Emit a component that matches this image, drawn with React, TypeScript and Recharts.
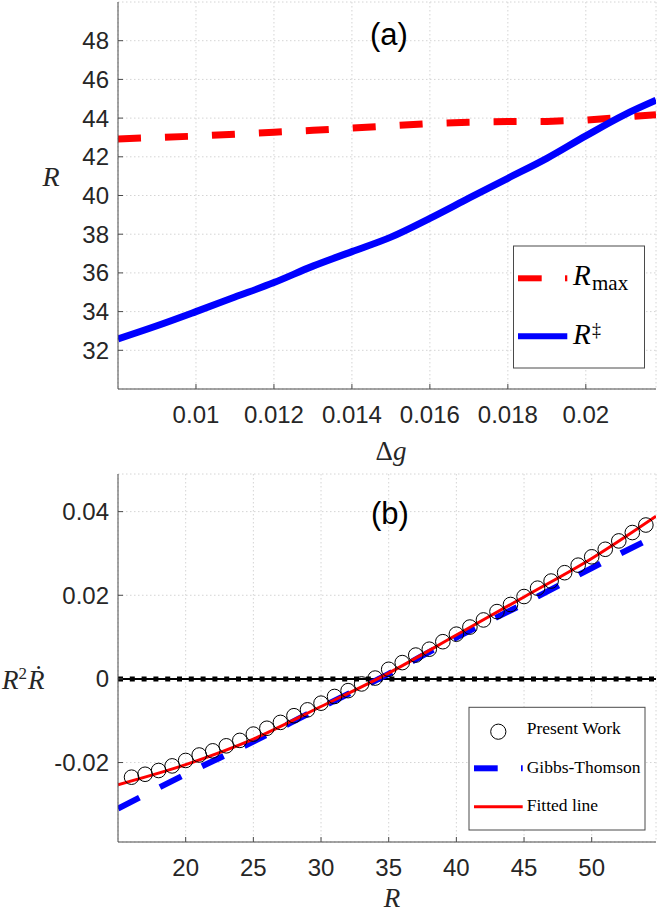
import React from 'react';
import { ComposedChart, Line, XAxis, YAxis, CartesianGrid } from 'recharts';

// ---------- Panel (a) data ----------
const dgValues = [0.008, 0.009, 0.01, 0.011, 0.012, 0.013, 0.014, 0.015, 0.016, 0.017, 0.018, 0.019, 0.02, 0.021, 0.0218];
const rMaxValues = [42.92, 43.0, 43.07, 43.17, 43.27, 43.37, 43.48, 43.6, 43.72, 43.79, 43.82, 43.83, 43.9, 44.05, 44.18];
const rDaggerValues = [32.59, 33.27, 34.0, 34.75, 35.5, 36.35, 37.1, 37.85, 38.82, 39.86, 40.89, 41.92, 43.08, 44.18, 44.92];
const dgTicks = [0.01, 0.012, 0.014, 0.016, 0.018, 0.02];
const rTicksA = [32, 34, 36, 38, 40, 42, 44, 46, 48];
const dgDomain: [number, number] = [0.008, 0.0218];
const rDomainA: [number, number] = [30, 50];

// ---------- Panel (b) data ----------
const rPresent = [16, 17, 18, 19, 20, 21, 22, 23, 24, 25, 26, 27, 28, 29, 30, 31, 32, 33, 34, 35, 36, 37, 38, 39, 40, 41, 42, 43, 44, 45, 46, 47, 48, 49, 50, 51, 52, 53, 54];
const presentValues = [-0.0235, -0.0228, -0.0219, -0.0208, -0.0195, -0.0182, -0.0172, -0.016, -0.0147, -0.0132, -0.0118, -0.0104, -0.0088, -0.0074, -0.0058, -0.0042, -0.0028, -0.0012, 0.0002, 0.0023, 0.0039, 0.0057, 0.0071, 0.0089, 0.0107, 0.0124, 0.0141, 0.0161, 0.0178, 0.0197, 0.0217, 0.0234, 0.0254, 0.0272, 0.0292, 0.031, 0.033, 0.035, 0.0368];
const rFit = [15, 20, 25, 30, 35, 40, 45, 50, 54.75];
const fitValues = [-0.0253, -0.0205, -0.0144, -0.0066, 0.0014, 0.0105, 0.0196, 0.0288, 0.0389];
const rGibbs = [15, 20, 25, 30, 35, 40, 45, 50, 53.8];
const gibbsValues = [-0.031, -0.0228, -0.015, -0.0068, 0.0012, 0.0099, 0.018, 0.0265, 0.0327];
const rZero = [15, 54.75];
const zeroValues = [0, 0];
const rTicksB = [20, 25, 30, 35, 40, 45, 50];
const yTicksB = [-0.02, 0, 0.02, 0.04];
const rDomainB: [number, number] = [15, 54.75];
const yDomainB: [number, number] = [-0.039, 0.049];

const zip = (xs: number[], ys: number[]) => xs.map((x, i) => ({ x, y: ys[i] }));

const rMaxData = zip(dgValues, rMaxValues);
const rDaggerData = zip(dgValues, rDaggerValues);
const presentData = zip(rPresent, presentValues);
const fitData = zip(rFit, fitValues);
const gibbsData = zip(rGibbs, gibbsValues);
const zeroData = zip(rZero, zeroValues);

const AXIS = '#4a4a4a';
const TXT = '#262626';
const SANS = '"Liberation Sans", Arial, Helvetica, sans-serif';
const SERIF = '"Liberation Serif", "DejaVu Serif", "Times New Roman", serif';
const tickStyle = { fontSize: 24, fill: TXT, fontFamily: SANS };
const EmptyTick = () => null;

const W = 664;

function Frame({ xDomain, yDomain, xTicks, yTicks }: any) {
  return [
    <CartesianGrid key="g" stroke="#d4d4d4" strokeDasharray="1.5 2.5" />,
    <XAxis key="xb" xAxisId={0} type="number" dataKey="x" domain={xDomain} ticks={xTicks} interval={0}
      allowDataOverflow height={71} tickSize={-5} tickMargin={22} tick={tickStyle}
      axisLine={{ stroke: AXIS }} tickLine={{ stroke: AXIS }} />,
    <XAxis key="xt" xAxisId="top" orientation="top" type="number" dataKey="x" domain={xDomain} ticks={xTicks}
      interval={0} allowDataOverflow height={0} tickSize={-5} tick={<EmptyTick />}
      axisLine={{ stroke: AXIS }} tickLine={{ stroke: AXIS }} />,
    <YAxis key="yl" yAxisId={0} type="number" dataKey="y" domain={yDomain} ticks={yTicks} interval={0}
      allowDataOverflow width={118} tickSize={-5} tickMargin={14} tick={tickStyle}
      axisLine={{ stroke: AXIS }} tickLine={{ stroke: AXIS }} />,
    <YAxis key="yr" yAxisId="right" orientation="right" type="number" dataKey="y" domain={yDomain} ticks={yTicks}
      interval={0} allowDataOverflow width={0} tickSize={-5} tick={<EmptyTick />}
      axisLine={{ stroke: AXIS }} tickLine={{ stroke: AXIS }} />,
  ];
}

function PanelA() {
  return (
    <ComposedChart width={W} height={460} margin={{ top: 2, right: 8, bottom: 0, left: 0 }}>
      {Frame({ xDomain: dgDomain, yDomain: rDomainA, xTicks: dgTicks, yTicks: rTicksA })}
      <Line data={rMaxData} dataKey="y" type="linear" stroke="#ff0000" strokeWidth={7}
        strokeDasharray="23 24" dot={false} isAnimationActive={false} />
      <Line data={rDaggerData} dataKey="y" type="monotone" stroke="#0000ff" strokeWidth={7}
        dot={false} isAnimationActive={false} />
    </ComposedChart>
  );
}

function PanelB() {
  return (
    <ComposedChart width={W} height={453} margin={{ top: 14, right: 8, bottom: 0, left: 0 }}>
      {Frame({ xDomain: rDomainB, yDomain: yDomainB, xTicks: rTicksB, yTicks: yTicksB })}
      <Line data={zeroData} dataKey="y" type="linear" stroke="#000" strokeWidth={2}
        dot={false} isAnimationActive={false} />
      <Line data={zeroData} dataKey="y" type="linear" stroke="#000" strokeWidth={5}
        strokeDasharray="5 6.8" dot={false} isAnimationActive={false} />
      <Line data={gibbsData} dataKey="y" type="monotone" stroke="#0000ff" strokeWidth={6}
        strokeDasharray="24 23" dot={false} isAnimationActive={false} />
      <Line data={presentData} dataKey="y" type="linear" stroke="none" strokeWidth={0}
        dot={{ r: 7.3, stroke: '#000', strokeWidth: 1, fill: 'none' }} activeDot={false} isAnimationActive={false} />
      <Line data={fitData} dataKey="y" type="monotone" stroke="#ff0000" strokeWidth={3}
        dot={false} isAnimationActive={false} />
    </ComposedChart>
  );
}

function Overlay() {
  return (
    <svg width={W} height={913} style={{ position: 'absolute', left: 0, top: 0, pointerEvents: 'none' }}>
      {/* panel titles */}
      <text x={389} y={44.5} textAnchor="middle" fontFamily={SANS} fontSize={31} fill="#000">(a)</text>
      <text x={390} y={523.5} textAnchor="middle" fontFamily={SANS} fontSize={31} fill="#000">(b)</text>

      {/* axis labels panel (a) */}
      <text x={51} y={186} textAnchor="middle" fontFamily={SERIF} fontStyle="italic" fontSize={28} fill={TXT}>R</text>
      <text x={391} y={460} textAnchor="middle" fontFamily={SERIF} fontSize={27} fill={TXT}>
        Δ<tspan fontStyle="italic">g</tspan>
      </text>

      {/* axis labels panel (b) */}
      <text x={392} y={907} textAnchor="middle" fontFamily={SERIF} fontStyle="italic" fontSize={27} fill={TXT}>R</text>
      <text y={689} fontFamily={SERIF} fontSize={27} fill={TXT}>
        <tspan x={2} fontStyle="italic">R</tspan>
        <tspan x={18.5} dy={-10} fontSize={17}>2</tspan>
        <tspan x={28} dy={10} fontStyle="italic">Ṙ</tspan>
      </text>

      {/* legend (a) */}
      <rect x={513.5} y={246} width={131} height={122} fill="#fff" stroke={AXIS} strokeWidth={1} />
      <line x1={518} y1={278.3} x2={541.7} y2={278.3} stroke="#ff0000" strokeWidth={6} />
      <line x1={565} y1={278.3} x2={567.3} y2={278.3} stroke="#ff0000" strokeWidth={6} />
      <text y={285} fontFamily={SERIF} fill="#000">
        <tspan x={573} fontStyle="italic" fontSize={29}>R</tspan>
        <tspan x={592} dy={5} fontSize={21}>max</tspan>
      </text>
      <line x1={518} y1={336.3} x2={567.3} y2={336.3} stroke="#0000ff" strokeWidth={6} />
      <text y={344} fontFamily={SERIF} fill="#000">
        <tspan x={573} fontStyle="italic" fontSize={29}>R</tspan>
        <tspan x={592} dy={-8.4} fontSize={18}>‡</tspan>
      </text>

      {/* legend (b) */}
      <rect x={469} y={707.3} width={176} height={122.7} fill="#fff" stroke={AXIS} strokeWidth={1} />
      <circle cx={498.3} cy={731.7} r={7.6} fill="none" stroke="#000" strokeWidth={1} />
      <text x={526.7} y={734.3} fontFamily={SERIF} fontSize={17.5} fill="#000">Present Work</text>
      <line x1={474} y1={768.3} x2={497.7} y2={768.3} stroke="#0000ff" strokeWidth={6} />
      <line x1={521} y1={768.3} x2={522.7} y2={768.3} stroke="#0000ff" strokeWidth={6} />
      <text x={526.7} y={773.3} fontFamily={SERIF} fontSize={17.5} fill="#000">Gibbs-Thomson</text>
      <line x1={474} y1={806.7} x2={522.7} y2={806.7} stroke="#ff0000" strokeWidth={3} />
      <text x={526.7} y={810.7} fontFamily={SERIF} fontSize={17.5} fill="#000">Fitted line</text>
    </svg>
  );
}

export default function App() {
  return (
    <div style={{ position: 'absolute', left: 0, top: 0, width: W, height: 913, background: '#fff' }}>
      <div style={{ position: 'absolute', left: 0, top: 0 }}>
        <PanelA />
      </div>
      <div style={{ position: 'absolute', left: 0, top: 460 }}>
        <PanelB />
      </div>
      <Overlay />
    </div>
  );
}
